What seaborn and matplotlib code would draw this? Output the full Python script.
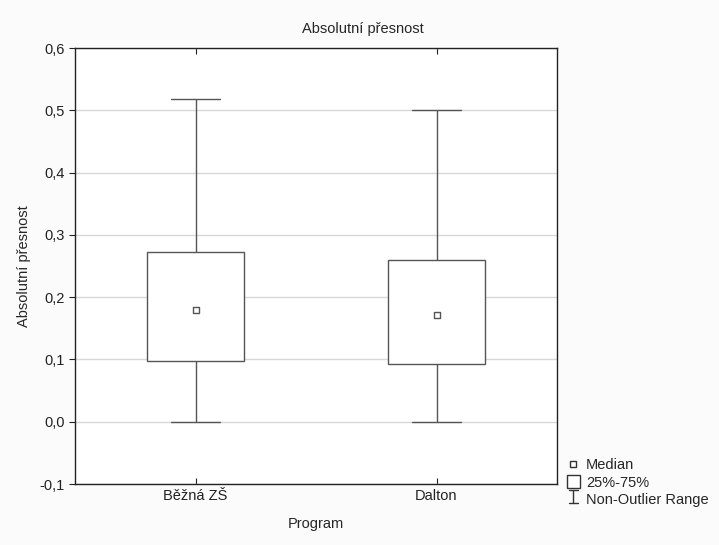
import numpy as np
import pandas as pd
import matplotlib
matplotlib.use('Agg')
import matplotlib.pyplot as plt
import seaborn as sns
from matplotlib.lines import Line2D
from matplotlib.patches import Rectangle
from matplotlib.legend_handler import HandlerBase
from matplotlib.ticker import FuncFormatter

# Summary values: min, 25 %, median, 75 %, max
programs = ['Běžná ZŠ', 'Dalton']
mins = [0.0, 0.0]
q1 = [0.098, 0.093]
medians = [0.180, 0.171]
q3 = [0.272, 0.260]
maxs = [0.518, 0.500]

# five points per group give exactly these quartiles with whis=(0, 100)
rows = []
for i, p in enumerate(programs):
    for v in (mins[i], q1[i], medians[i], q3[i], maxs[i]):
        rows.append({'Program': p, 'value': v})
df = pd.DataFrame(rows)


class RangeHandler(HandlerBase):
    # I-beam symbol for the whisker range entry
    def create_artists(self, legend, orig, xd, yd, w, h, fontsize, trans):
        cx = xd + w / 2
        hw = w * 0.35
        lo, hi = yd, yd + h
        col = '#333333'
        return [
            Line2D([cx, cx], [lo, hi], color=col, lw=1.0, transform=trans),
            Line2D([cx - hw, cx + hw], [lo, lo], color=col, lw=1.0, transform=trans),
            Line2D([cx - hw, cx + hw], [hi, hi], color=col, lw=1.0, transform=trans),
        ]


sns.set_style('white')
plt.rcParams['font.family'] = ['Liberation Sans', 'DejaVu Sans']

fig = plt.figure(figsize=(7.19, 5.45), dpi=100, facecolor='#fbfbfb')
ax = fig.add_axes([75 / 719, 1 - 484 / 545, 482 / 719, 436 / 545])
ax.set_facecolor('white')

line_col = '#555555'
sns.boxplot(data=df, x='Program', y='value', whis=(0, 100), width=0.4,
            color='white', linecolor=line_col, linewidth=1.0,
            medianprops={'visible': False}, ax=ax)

med_df = pd.DataFrame({'Program': programs, 'median': medians})
sns.scatterplot(data=med_df, x='Program', y='median', marker='s', s=22,
                facecolor='white', edgecolor=line_col, linewidth=1.0,
                zorder=5, ax=ax)

ax.set_xlim(-0.5, 1.5)
ax.set_ylim(-0.1, 0.6)
ax.set_yticks(np.arange(-0.1, 0.61, 0.1))
ax.yaxis.set_major_formatter(FuncFormatter(lambda v, _: f'{v:.1f}'.replace('.', ',').replace('-0,0', '0,0')))
ax.yaxis.grid(True, color='#d8d8d8', linewidth=1.0)
ax.set_axisbelow(True)

for s in ax.spines.values():
    s.set_color('#222222')
    s.set_linewidth(1.0)
ax.tick_params(axis='y', which='both', left=True, length=4, direction='out',
               labelsize=10.5, colors='#222222')
ax.tick_params(axis='x', bottom=True, top=True, length=4, direction='in',
               labelsize=10.5, colors='#222222')

fig.suptitle('Absolutní přesnost', fontsize=10.5, x=0.505, y=1 - 22 / 545, va='top')
ax.set_xlabel('Program', fontsize=10.5, labelpad=10)
ax.set_ylabel('Absolutní přesnost', fontsize=10.5, labelpad=6)

handles = [
    Line2D([], [], marker='s', ls='', ms=5, mfc='white', mec='#333333', mew=1.0),
    Rectangle((0, 0), 1, 1, facecolor='white', edgecolor='#333333', linewidth=1.0),
    'range',
]
labels = ['Median', '25%-75%', 'Non-Outlier Range']
fig.legend(handles, labels, loc='upper left', bbox_to_anchor=(561 / 719, 1 - 452 / 545),
           frameon=False, fontsize=10.5, handlelength=0.9, handletextpad=0.4,
           labelspacing=0.2, borderaxespad=0, handleheight=1.0,
           handler_map={str: RangeHandler()})

fig.savefig('out.png', dpi=100, facecolor=fig.get_facecolor())
